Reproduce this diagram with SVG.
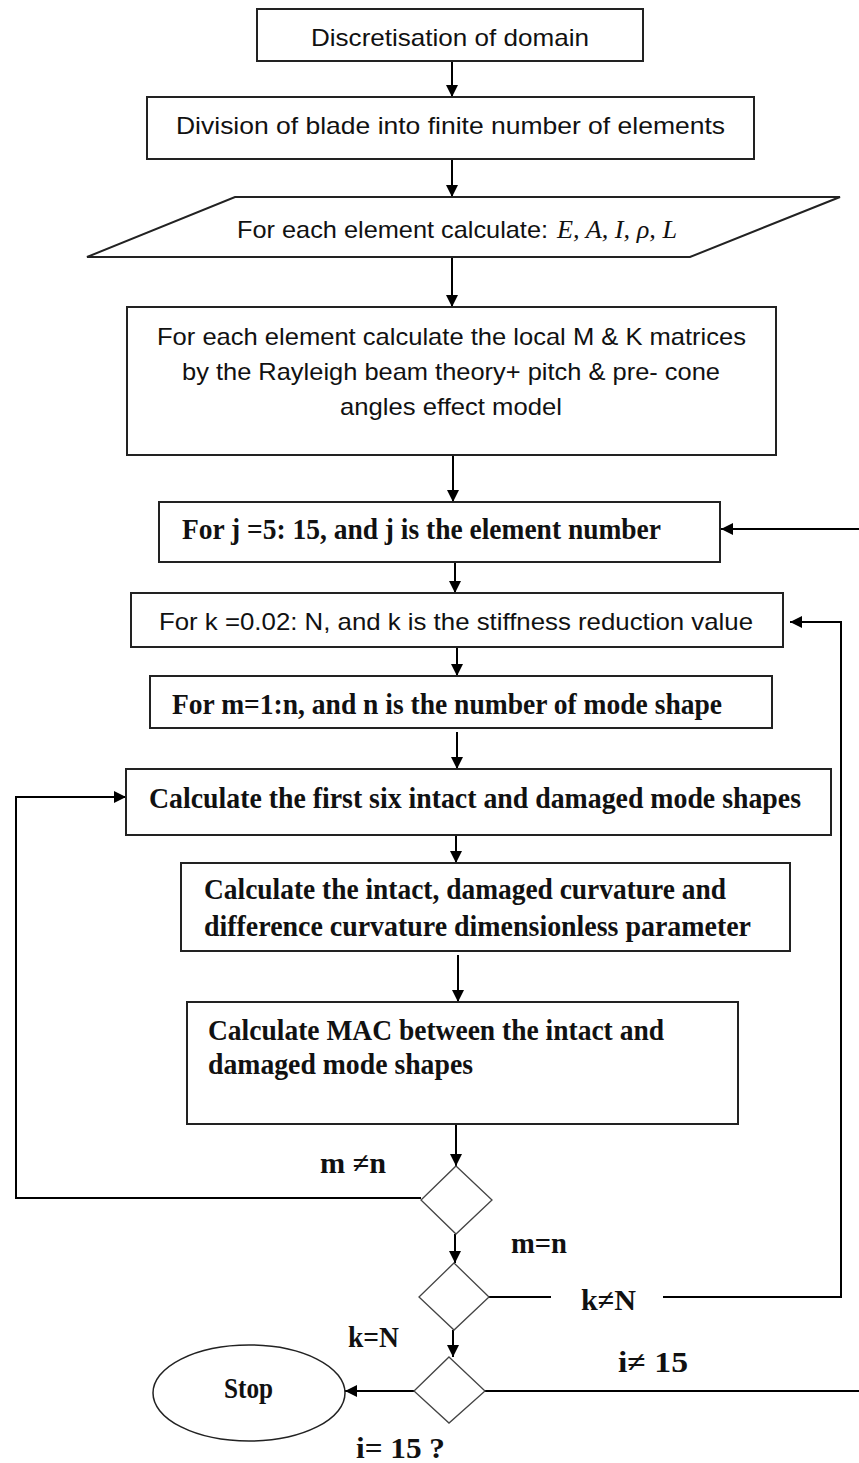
<svg xmlns="http://www.w3.org/2000/svg" width="859" height="1463" viewBox="0 0 859 1463">
<defs>
<marker id="ah" viewBox="0 0 12 12" refX="12" refY="6" markerWidth="12" markerHeight="12" markerUnits="userSpaceOnUse" orient="auto">
<path d="M0,0 L12,6 L0,12 Z" fill="#000"/>
</marker>
<style>
.box{fill:#fff;stroke:#222;stroke-width:2}
.dia{fill:#fff;stroke:#444;stroke-width:1.3}
.con{fill:none;stroke:#000;stroke-width:2.2}
.arr{fill:none;stroke:#000;stroke-width:2;marker-end:url(#ah)}
.sans{font-family:"Liberation Sans",Arial,sans-serif;font-size:24px;fill:#111}
.ser{font-family:"Liberation Serif","Times New Roman",serif;font-size:30px;font-weight:bold;fill:#111}
.math{font-family:"Liberation Serif","Times New Roman",serif;font-style:italic;font-size:26px;fill:#111}
</style>
</defs>
<rect width="859" height="1463" fill="#fff"/>

<g id="connectors">
<line class="arr" x1="452" y1="61" x2="452" y2="97"/>
<line class="arr" x1="452" y1="159" x2="452" y2="197"/>
<line class="arr" x1="452" y1="257" x2="452" y2="307"/>
<line class="arr" x1="453" y1="455" x2="453" y2="502"/>
<line class="arr" x1="455" y1="562" x2="455" y2="593"/>
<line class="arr" x1="457" y1="647" x2="457" y2="676"/>
<line class="arr" x1="457" y1="732" x2="457" y2="769"/>
<line class="arr" x1="456" y1="835" x2="456" y2="863"/>
<line class="arr" x1="458" y1="955" x2="458" y2="1002"/>
<line class="arr" x1="456" y1="1124" x2="456" y2="1166"/>
<line class="arr" x1="455" y1="1234" x2="455" y2="1263"/>
<line class="arr" x1="453" y1="1330" x2="453" y2="1357"/>
<polyline class="arr" stroke-width="2.5" points="421,1198 16,1198 16,797 126,797"/>
<line class="con" x1="489" y1="1297" x2="551" y2="1297"/>
<polyline class="arr" stroke-width="2.2" points="663,1297 841,1297 841,622 790,622"/>
<line class="con" x1="485" y1="1391" x2="859" y2="1391"/>
<line class="arr" x1="859" y1="529" x2="721" y2="529"/>
<line class="arr" x1="414" y1="1391" x2="345" y2="1391"/>
</g>

<g id="n1">
<rect class="box" x="257" y="9" width="386" height="52"/>
<text class="sans" x="311" y="46" textLength="278" lengthAdjust="spacingAndGlyphs">Discretisation of domain</text>
</g>
<g id="n2">
<rect class="box" x="147" y="97" width="607" height="62"/>
<text class="sans" x="176" y="134" textLength="549" lengthAdjust="spacingAndGlyphs">Division of blade into finite number of elements</text>
</g>
<g id="n3">
<polygon class="box" points="235,197 840,197 690,257 87,257"/>
<text class="sans" y="238"><tspan x="237" textLength="311" lengthAdjust="spacingAndGlyphs">For each element calculate:</tspan><tspan class="math" x="557" textLength="120" lengthAdjust="spacingAndGlyphs">E, A, I, ρ, L</tspan></text>
</g>
<g id="n4">
<rect class="box" x="127" y="307" width="649" height="148"/>
<text class="sans" x="157" y="345" textLength="589" lengthAdjust="spacingAndGlyphs">For each element calculate the local M  &amp; K matrices</text>
<text class="sans" x="182" y="380" textLength="538" lengthAdjust="spacingAndGlyphs">by the Rayleigh beam theory+ pitch &amp; pre- cone</text>
<text class="sans" x="340" y="415" textLength="222" lengthAdjust="spacingAndGlyphs">angles effect model</text>
</g>
<g id="n5">
<rect class="box" x="159" y="502" width="561" height="60"/>
<text class="ser" x="182" y="539" textLength="479" lengthAdjust="spacingAndGlyphs">For j =5: 15, and j is the element number</text>
</g>
<g id="n6">
<rect class="box" x="131" y="593" width="652" height="54"/>
<text class="sans" x="159" y="630" textLength="594" lengthAdjust="spacingAndGlyphs">For k =0.02: N, and k is the stiffness reduction  value</text>
</g>
<g id="n7">
<rect class="box" x="150" y="676" width="622" height="52"/>
<text class="ser" x="172" y="714" textLength="550" lengthAdjust="spacingAndGlyphs">For m=1:n, and n is the number of mode shape</text>
</g>
<g id="n8">
<rect class="box" x="126" y="769" width="705" height="66"/>
<text class="ser" x="149" y="808" textLength="652" lengthAdjust="spacingAndGlyphs">Calculate the first six intact and damaged  mode shapes</text>
</g>
<g id="n9">
<rect class="box" x="181" y="863" width="609" height="88"/>
<text class="ser" x="204" y="899" textLength="522" lengthAdjust="spacingAndGlyphs">Calculate the intact, damaged curvature and</text>
<text class="ser" x="204" y="936" textLength="547" lengthAdjust="spacingAndGlyphs">difference curvature  dimensionless parameter</text>
</g>
<g id="n10">
<rect class="box" x="187" y="1002" width="551" height="122"/>
<text class="ser" x="208" y="1040" textLength="456" lengthAdjust="spacingAndGlyphs">Calculate MAC between the intact and</text>
<text class="ser" x="208" y="1074" textLength="265" lengthAdjust="spacingAndGlyphs">damaged mode shapes</text>
</g>
<g id="d1">
<polygon class="dia" points="456,1166 492,1200 456,1234 421,1200"/>
</g>
<g id="d2">
<polygon class="dia" points="454,1263 489,1297 454,1330 419,1297"/>
</g>
<g id="d3">
<polygon class="dia" points="449,1357 485,1391 449,1423 414,1391"/>
</g>
<g id="stop">
<ellipse cx="249" cy="1393" rx="96" ry="48" fill="#fff" stroke="#222" stroke-width="1.5"/>
<text class="ser" x="224" y="1398" font-size="26" textLength="49" lengthAdjust="spacingAndGlyphs">Stop</text>
</g>
<g id="labels">
<text class="ser" x="320" y="1173" textLength="66" lengthAdjust="spacingAndGlyphs">m ≠n</text>
<text class="ser" x="511" y="1253" textLength="56" lengthAdjust="spacingAndGlyphs">m=n</text>
<text class="ser" x="581" y="1310" textLength="55" lengthAdjust="spacingAndGlyphs">k≠N</text>
<text class="ser" x="348" y="1347" textLength="51" lengthAdjust="spacingAndGlyphs">k=N</text>
<text class="ser" x="618" y="1372" textLength="70" lengthAdjust="spacingAndGlyphs">i≠ 15</text>
<text class="ser" x="356" y="1458" textLength="89" lengthAdjust="spacingAndGlyphs">i= 15 ?</text>
</g>
</svg>
